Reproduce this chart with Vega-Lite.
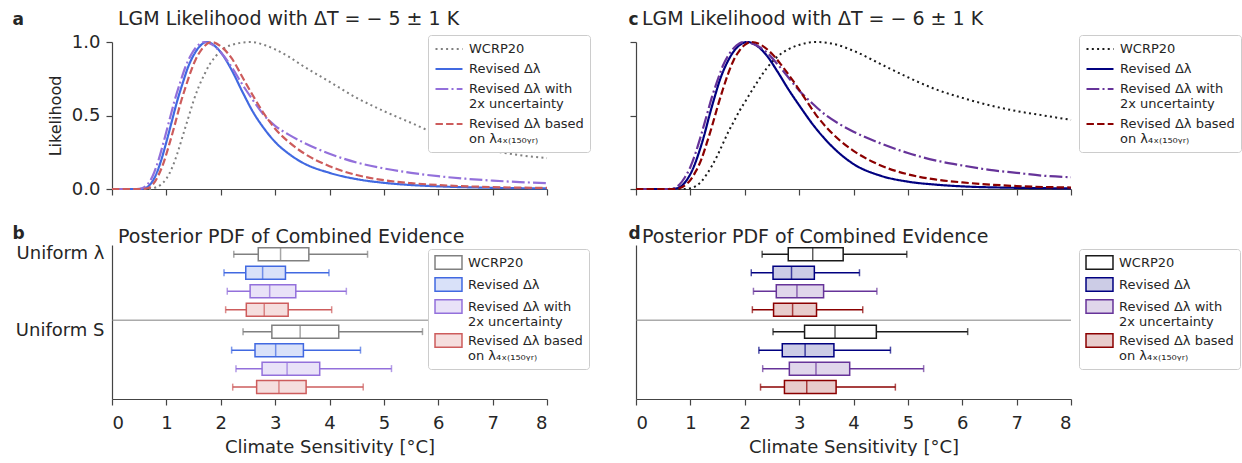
{
"$schema": "https://vega.github.io/schema/vega-lite/v6.json",
"padding": {"left": 12, "top": 10, "right": 0, "bottom": 0},
"background": "white",
"config": {
  "font": "DejaVu Sans",
  "view": {"stroke": null},
  "axis": {"grid": false, "domainColor": "#444444", "tickColor": "#444444", "labelColor": "#262626", "titleColor": "#262626", "labelFontSize": 18, "titleFontSize": 18, "titleFontWeight": "normal", "tickSize": 6, "domainWidth": 1.2, "tickWidth": 1.2, "labelPadding": 3},
  "legend": {"labelFontSize": 13, "labelColor": "#262626", "strokeColor": "#cccccc", "fillColor": "white", "padding": 6, "cornerRadius": 3, "rowPadding": 5, "labelLimit": 300, "symbolOffset": 7, "labelOffset": 12},
  "title": {"fontSize": 19, "fontWeight": "normal", "color": "#262626", "anchor": "start", "frame": "group"}
},
"datasets": {
"curves": [
{"panel":"a","series":"WCRP20","S":0,"L":0},{"panel":"a","series":"WCRP20","S":0.7,"L":0},{"panel":"a","series":"WCRP20","S":0.8,"L":0.01},{"panel":"a","series":"WCRP20","S":0.9,"L":0.03},{"panel":"a","series":"WCRP20","S":1.0,"L":0.07},{"panel":"a","series":"WCRP20","S":1.1,"L":0.14},{"panel":"a","series":"WCRP20","S":1.2,"L":0.24},{"panel":"a","series":"WCRP20","S":1.3,"L":0.36},{"panel":"a","series":"WCRP20","S":1.4,"L":0.48},{"panel":"a","series":"WCRP20","S":1.5,"L":0.6},{"panel":"a","series":"WCRP20","S":1.6,"L":0.7},{"panel":"a","series":"WCRP20","S":1.7,"L":0.78},{"panel":"a","series":"WCRP20","S":1.8,"L":0.85},{"panel":"a","series":"WCRP20","S":1.9,"L":0.9},{"panel":"a","series":"WCRP20","S":2.0,"L":0.94},{"panel":"a","series":"WCRP20","S":2.2,"L":0.98},{"panel":"a","series":"WCRP20","S":2.55,"L":1.0},{"panel":"a","series":"WCRP20","S":2.8,"L":0.98},{"panel":"a","series":"WCRP20","S":3.0,"L":0.95},{"panel":"a","series":"WCRP20","S":3.25,"L":0.9},{"panel":"a","series":"WCRP20","S":3.5,"L":0.84},{"panel":"a","series":"WCRP20","S":4.0,"L":0.73},{"panel":"a","series":"WCRP20","S":4.5,"L":0.62},{"panel":"a","series":"WCRP20","S":5.0,"L":0.53},{"panel":"a","series":"WCRP20","S":5.5,"L":0.45},{"panel":"a","series":"WCRP20","S":6.0,"L":0.37},{"panel":"a","series":"WCRP20","S":6.5,"L":0.31},{"panel":"a","series":"WCRP20","S":7.0,"L":0.26},{"panel":"a","series":"WCRP20","S":7.5,"L":0.23},{"panel":"a","series":"WCRP20","S":8.0,"L":0.21},
{"panel":"a","series":"Rev","S":0,"L":0},{"panel":"a","series":"Rev","S":0.5,"L":0},{"panel":"a","series":"Rev","S":0.6,"L":0.005},{"panel":"a","series":"Rev","S":0.7,"L":0.03},{"panel":"a","series":"Rev","S":0.8,"L":0.09},{"panel":"a","series":"Rev","S":0.9,"L":0.19},{"panel":"a","series":"Rev","S":1.0,"L":0.32},{"panel":"a","series":"Rev","S":1.1,"L":0.46},{"panel":"a","series":"Rev","S":1.2,"L":0.6},{"panel":"a","series":"Rev","S":1.3,"L":0.72},{"panel":"a","series":"Rev","S":1.4,"L":0.83},{"panel":"a","series":"Rev","S":1.5,"L":0.91},{"panel":"a","series":"Rev","S":1.6,"L":0.965},{"panel":"a","series":"Rev","S":1.74,"L":1.0},{"panel":"a","series":"Rev","S":1.9,"L":0.97},{"panel":"a","series":"Rev","S":2.0,"L":0.93},{"panel":"a","series":"Rev","S":2.2,"L":0.81},{"panel":"a","series":"Rev","S":2.4,"L":0.66},{"panel":"a","series":"Rev","S":2.6,"L":0.52},{"panel":"a","series":"Rev","S":2.8,"L":0.41},{"panel":"a","series":"Rev","S":3.0,"L":0.32},{"panel":"a","series":"Rev","S":3.25,"L":0.24},{"panel":"a","series":"Rev","S":3.5,"L":0.18},{"panel":"a","series":"Rev","S":4.0,"L":0.11},{"panel":"a","series":"Rev","S":4.5,"L":0.067},{"panel":"a","series":"Rev","S":5.0,"L":0.042},{"panel":"a","series":"Rev","S":5.5,"L":0.027},{"panel":"a","series":"Rev","S":6.0,"L":0.018},{"panel":"a","series":"Rev","S":7.0,"L":0.008},{"panel":"a","series":"Rev","S":8.0,"L":0.004},
{"panel":"a","series":"Rev2x","S":0,"L":0},{"panel":"a","series":"Rev2x","S":0.45,"L":0},{"panel":"a","series":"Rev2x","S":0.55,"L":0.005},{"panel":"a","series":"Rev2x","S":0.65,"L":0.03},{"panel":"a","series":"Rev2x","S":0.75,"L":0.09},{"panel":"a","series":"Rev2x","S":0.85,"L":0.19},{"panel":"a","series":"Rev2x","S":0.95,"L":0.32},{"panel":"a","series":"Rev2x","S":1.05,"L":0.46},{"panel":"a","series":"Rev2x","S":1.15,"L":0.6},{"panel":"a","series":"Rev2x","S":1.25,"L":0.72},{"panel":"a","series":"Rev2x","S":1.35,"L":0.83},{"panel":"a","series":"Rev2x","S":1.45,"L":0.91},{"panel":"a","series":"Rev2x","S":1.55,"L":0.965},{"panel":"a","series":"Rev2x","S":1.7,"L":1.0},{"panel":"a","series":"Rev2x","S":1.85,"L":0.98},{"panel":"a","series":"Rev2x","S":2.0,"L":0.93},{"panel":"a","series":"Rev2x","S":2.2,"L":0.83},{"panel":"a","series":"Rev2x","S":2.4,"L":0.71},{"panel":"a","series":"Rev2x","S":2.6,"L":0.6},{"panel":"a","series":"Rev2x","S":2.8,"L":0.5},{"panel":"a","series":"Rev2x","S":3.0,"L":0.43},{"panel":"a","series":"Rev2x","S":3.25,"L":0.37},{"panel":"a","series":"Rev2x","S":3.5,"L":0.32},{"panel":"a","series":"Rev2x","S":4.0,"L":0.24},{"panel":"a","series":"Rev2x","S":4.5,"L":0.18},{"panel":"a","series":"Rev2x","S":5.0,"L":0.14},{"panel":"a","series":"Rev2x","S":5.5,"L":0.11},{"panel":"a","series":"Rev2x","S":6.0,"L":0.087},{"panel":"a","series":"Rev2x","S":6.5,"L":0.07},{"panel":"a","series":"Rev2x","S":7.0,"L":0.057},{"panel":"a","series":"Rev2x","S":7.5,"L":0.047},{"panel":"a","series":"Rev2x","S":8.0,"L":0.04},
{"panel":"a","series":"Rev4x","S":0,"L":0},{"panel":"a","series":"Rev4x","S":0.55,"L":0},{"panel":"a","series":"Rev4x","S":0.65,"L":0.005},{"panel":"a","series":"Rev4x","S":0.75,"L":0.03},{"panel":"a","series":"Rev4x","S":0.85,"L":0.09},{"panel":"a","series":"Rev4x","S":0.95,"L":0.18},{"panel":"a","series":"Rev4x","S":1.05,"L":0.3},{"panel":"a","series":"Rev4x","S":1.15,"L":0.43},{"panel":"a","series":"Rev4x","S":1.25,"L":0.57},{"panel":"a","series":"Rev4x","S":1.35,"L":0.69},{"panel":"a","series":"Rev4x","S":1.45,"L":0.8},{"panel":"a","series":"Rev4x","S":1.55,"L":0.89},{"panel":"a","series":"Rev4x","S":1.65,"L":0.95},{"panel":"a","series":"Rev4x","S":1.83,"L":1.0},{"panel":"a","series":"Rev4x","S":2.0,"L":0.97},{"panel":"a","series":"Rev4x","S":2.2,"L":0.89},{"panel":"a","series":"Rev4x","S":2.4,"L":0.76},{"panel":"a","series":"Rev4x","S":2.6,"L":0.63},{"panel":"a","series":"Rev4x","S":2.8,"L":0.51},{"panel":"a","series":"Rev4x","S":3.0,"L":0.41},{"panel":"a","series":"Rev4x","S":3.25,"L":0.32},{"panel":"a","series":"Rev4x","S":3.5,"L":0.25},{"panel":"a","series":"Rev4x","S":4.0,"L":0.155},{"panel":"a","series":"Rev4x","S":4.5,"L":0.095},{"panel":"a","series":"Rev4x","S":5.0,"L":0.06},{"panel":"a","series":"Rev4x","S":5.5,"L":0.04},{"panel":"a","series":"Rev4x","S":6.0,"L":0.027},{"panel":"a","series":"Rev4x","S":7.0,"L":0.013},{"panel":"a","series":"Rev4x","S":8.0,"L":0.007},
{"panel":"c","series":"WCRP20","S":0,"L":0},{"panel":"c","series":"WCRP20","S":0.9,"L":0},{"panel":"c","series":"WCRP20","S":1.0,"L":0.005},{"panel":"c","series":"WCRP20","S":1.1,"L":0.02},{"panel":"c","series":"WCRP20","S":1.2,"L":0.05},{"panel":"c","series":"WCRP20","S":1.3,"L":0.1},{"panel":"c","series":"WCRP20","S":1.4,"L":0.16},{"panel":"c","series":"WCRP20","S":1.5,"L":0.23},{"panel":"c","series":"WCRP20","S":1.6,"L":0.31},{"panel":"c","series":"WCRP20","S":1.7,"L":0.39},{"panel":"c","series":"WCRP20","S":1.8,"L":0.46},{"panel":"c","series":"WCRP20","S":1.9,"L":0.53},{"panel":"c","series":"WCRP20","S":2.0,"L":0.59},{"panel":"c","series":"WCRP20","S":2.2,"L":0.71},{"panel":"c","series":"WCRP20","S":2.4,"L":0.82},{"panel":"c","series":"WCRP20","S":2.6,"L":0.9},{"panel":"c","series":"WCRP20","S":2.8,"L":0.95},{"panel":"c","series":"WCRP20","S":3.0,"L":0.98},{"panel":"c","series":"WCRP20","S":3.3,"L":1.0},{"panel":"c","series":"WCRP20","S":3.6,"L":0.99},{"panel":"c","series":"WCRP20","S":4.0,"L":0.94},{"panel":"c","series":"WCRP20","S":4.5,"L":0.85},{"panel":"c","series":"WCRP20","S":5.0,"L":0.76},{"panel":"c","series":"WCRP20","S":5.5,"L":0.68},{"panel":"c","series":"WCRP20","S":6.0,"L":0.62},{"panel":"c","series":"WCRP20","S":6.5,"L":0.57},{"panel":"c","series":"WCRP20","S":7.0,"L":0.53},{"panel":"c","series":"WCRP20","S":7.5,"L":0.5},{"panel":"c","series":"WCRP20","S":8.0,"L":0.47},
{"panel":"c","series":"Rev","S":0,"L":0},{"panel":"c","series":"Rev","S":0.65,"L":0},{"panel":"c","series":"Rev","S":0.75,"L":0.005},{"panel":"c","series":"Rev","S":0.85,"L":0.025},{"panel":"c","series":"Rev","S":0.95,"L":0.07},{"panel":"c","series":"Rev","S":1.05,"L":0.14},{"panel":"c","series":"Rev","S":1.15,"L":0.24},{"panel":"c","series":"Rev","S":1.25,"L":0.36},{"panel":"c","series":"Rev","S":1.35,"L":0.5},{"panel":"c","series":"Rev","S":1.45,"L":0.63},{"panel":"c","series":"Rev","S":1.55,"L":0.75},{"panel":"c","series":"Rev","S":1.65,"L":0.84},{"panel":"c","series":"Rev","S":1.75,"L":0.91},{"panel":"c","series":"Rev","S":1.85,"L":0.96},{"panel":"c","series":"Rev","S":1.95,"L":0.99},{"panel":"c","series":"Rev","S":2.05,"L":1.0},{"panel":"c","series":"Rev","S":2.2,"L":0.98},{"panel":"c","series":"Rev","S":2.4,"L":0.91},{"panel":"c","series":"Rev","S":2.6,"L":0.8},{"panel":"c","series":"Rev","S":2.8,"L":0.68},{"panel":"c","series":"Rev","S":3.0,"L":0.57},{"panel":"c","series":"Rev","S":3.25,"L":0.44},{"panel":"c","series":"Rev","S":3.5,"L":0.33},{"panel":"c","series":"Rev","S":3.75,"L":0.24},{"panel":"c","series":"Rev","S":4.0,"L":0.17},{"panel":"c","series":"Rev","S":4.5,"L":0.09},{"panel":"c","series":"Rev","S":5.0,"L":0.05},{"panel":"c","series":"Rev","S":5.5,"L":0.03},{"panel":"c","series":"Rev","S":6.0,"L":0.018},{"panel":"c","series":"Rev","S":7.0,"L":0.008},{"panel":"c","series":"Rev","S":8.0,"L":0.004},
{"panel":"c","series":"Rev2x","S":0,"L":0},{"panel":"c","series":"Rev2x","S":0.6,"L":0},{"panel":"c","series":"Rev2x","S":0.7,"L":0.005},{"panel":"c","series":"Rev2x","S":0.8,"L":0.03},{"panel":"c","series":"Rev2x","S":0.9,"L":0.08},{"panel":"c","series":"Rev2x","S":1.0,"L":0.15},{"panel":"c","series":"Rev2x","S":1.1,"L":0.25},{"panel":"c","series":"Rev2x","S":1.2,"L":0.37},{"panel":"c","series":"Rev2x","S":1.3,"L":0.5},{"panel":"c","series":"Rev2x","S":1.4,"L":0.63},{"panel":"c","series":"Rev2x","S":1.5,"L":0.74},{"panel":"c","series":"Rev2x","S":1.6,"L":0.84},{"panel":"c","series":"Rev2x","S":1.7,"L":0.91},{"panel":"c","series":"Rev2x","S":1.8,"L":0.96},{"panel":"c","series":"Rev2x","S":1.9,"L":0.99},{"panel":"c","series":"Rev2x","S":2.0,"L":1.0},{"panel":"c","series":"Rev2x","S":2.2,"L":0.98},{"panel":"c","series":"Rev2x","S":2.4,"L":0.93},{"panel":"c","series":"Rev2x","S":2.6,"L":0.85},{"panel":"c","series":"Rev2x","S":2.8,"L":0.76},{"panel":"c","series":"Rev2x","S":3.0,"L":0.67},{"panel":"c","series":"Rev2x","S":3.25,"L":0.58},{"panel":"c","series":"Rev2x","S":3.5,"L":0.5},{"panel":"c","series":"Rev2x","S":3.75,"L":0.44},{"panel":"c","series":"Rev2x","S":4.0,"L":0.39},{"panel":"c","series":"Rev2x","S":4.5,"L":0.31},{"panel":"c","series":"Rev2x","S":5.0,"L":0.245},{"panel":"c","series":"Rev2x","S":5.5,"L":0.195},{"panel":"c","series":"Rev2x","S":6.0,"L":0.16},{"panel":"c","series":"Rev2x","S":6.5,"L":0.13},{"panel":"c","series":"Rev2x","S":7.0,"L":0.11},{"panel":"c","series":"Rev2x","S":7.5,"L":0.09},{"panel":"c","series":"Rev2x","S":8.0,"L":0.08},
{"panel":"c","series":"Rev4x","S":0,"L":0},{"panel":"c","series":"Rev4x","S":0.7,"L":0},{"panel":"c","series":"Rev4x","S":0.8,"L":0.005},{"panel":"c","series":"Rev4x","S":0.9,"L":0.025},{"panel":"c","series":"Rev4x","S":1.0,"L":0.06},{"panel":"c","series":"Rev4x","S":1.1,"L":0.12},{"panel":"c","series":"Rev4x","S":1.2,"L":0.2},{"panel":"c","series":"Rev4x","S":1.3,"L":0.31},{"panel":"c","series":"Rev4x","S":1.4,"L":0.43},{"panel":"c","series":"Rev4x","S":1.5,"L":0.56},{"panel":"c","series":"Rev4x","S":1.6,"L":0.68},{"panel":"c","series":"Rev4x","S":1.7,"L":0.79},{"panel":"c","series":"Rev4x","S":1.8,"L":0.88},{"panel":"c","series":"Rev4x","S":1.9,"L":0.94},{"panel":"c","series":"Rev4x","S":2.0,"L":0.98},{"panel":"c","series":"Rev4x","S":2.12,"L":1.0},{"panel":"c","series":"Rev4x","S":2.3,"L":0.98},{"panel":"c","series":"Rev4x","S":2.5,"L":0.92},{"panel":"c","series":"Rev4x","S":2.7,"L":0.83},{"panel":"c","series":"Rev4x","S":2.9,"L":0.73},{"panel":"c","series":"Rev4x","S":3.1,"L":0.62},{"panel":"c","series":"Rev4x","S":3.3,"L":0.51},{"panel":"c","series":"Rev4x","S":3.5,"L":0.42},{"panel":"c","series":"Rev4x","S":3.75,"L":0.33},{"panel":"c","series":"Rev4x","S":4.0,"L":0.26},{"panel":"c","series":"Rev4x","S":4.5,"L":0.16},{"panel":"c","series":"Rev4x","S":5.0,"L":0.1},{"panel":"c","series":"Rev4x","S":5.5,"L":0.065},{"panel":"c","series":"Rev4x","S":6.0,"L":0.045},{"panel":"c","series":"Rev4x","S":7.0,"L":0.02},{"panel":"c","series":"Rev4x","S":8.0,"L":0.01}
],
"boxes": [
{"panel":"b","prior":"Uniform λ","series":"WCRP20","lo":2.24,"q1":2.69,"med":3.10,"q3":3.62,"hi":4.70},
{"panel":"b","prior":"Uniform λ","series":"Rev","lo":2.06,"q1":2.46,"med":2.77,"q3":3.19,"hi":3.99},
{"panel":"b","prior":"Uniform λ","series":"Rev2x","lo":2.12,"q1":2.54,"med":2.90,"q3":3.38,"hi":4.31},
{"panel":"b","prior":"Uniform λ","series":"Rev4x","lo":2.09,"q1":2.47,"med":2.80,"q3":3.24,"hi":4.04},
{"panel":"b","prior":"Uniform S","series":"WCRP20","lo":2.41,"q1":2.94,"med":3.46,"q3":4.17,"hi":5.71},
{"panel":"b","prior":"Uniform S","series":"Rev","lo":2.20,"q1":2.63,"med":3.01,"q3":3.52,"hi":4.57},
{"panel":"b","prior":"Uniform S","series":"Rev2x","lo":2.28,"q1":2.76,"med":3.22,"q3":3.82,"hi":5.14},
{"panel":"b","prior":"Uniform S","series":"Rev4x","lo":2.22,"q1":2.66,"med":3.07,"q3":3.57,"hi":4.62},
{"panel":"d","prior":"Uniform λ","series":"WCRP20","lo":2.32,"q1":2.80,"med":3.25,"q3":3.81,"hi":4.98},
{"panel":"d","prior":"Uniform λ","series":"Rev","lo":2.12,"q1":2.52,"med":2.86,"q3":3.28,"hi":4.11},
{"panel":"d","prior":"Uniform λ","series":"Rev2x","lo":2.16,"q1":2.58,"med":2.96,"q3":3.45,"hi":4.43},
{"panel":"d","prior":"Uniform λ","series":"Rev4x","lo":2.14,"q1":2.53,"med":2.88,"q3":3.32,"hi":4.17},
{"panel":"d","prior":"Uniform S","series":"WCRP20","lo":2.52,"q1":3.10,"med":3.66,"q3":4.42,"hi":6.10},
{"panel":"d","prior":"Uniform S","series":"Rev","lo":2.26,"q1":2.69,"med":3.11,"q3":3.64,"hi":4.68},
{"panel":"d","prior":"Uniform S","series":"Rev2x","lo":2.33,"q1":2.82,"med":3.31,"q3":3.93,"hi":5.29},
{"panel":"d","prior":"Uniform S","series":"Rev4x","lo":2.29,"q1":2.73,"med":3.14,"q3":3.68,"hi":4.77}
]
},
"columns": 2,
"spacing": {"row": 26, "column": 37},
"resolve": {"scale": {"color": "independent", "strokeDash": "independent", "fill": "independent", "stroke": "independent"}},
"concat": [
{
  "width": 435, "height": 147,
  "title": {"text": "LGM Likelihood with ΔT = − 5 ± 1 K", "offset": -15, "dx": 6, "dy": 19, "baseline": "alphabetic"},
  "data": {"name": "curves"},
  "transform": [{"filter": "datum.panel == 'a'"}],
  "encoding": {
    "y": {"field": "L", "type": "quantitative", "scale": {"domain": [0, 1]}, "axis": {"values": [0, 0.5, 1], "format": ".1f", "title": "Likelihood", "titleFontSize": 16, "titlePadding": 8, "labelPadding": 6}},
    "color": {"field": "series", "type": "nominal", "scale": {"domain": ["WCRP20", "Rev", "Rev2x", "Rev4x"], "range": ["#808080", "#4169E1", "#9370DB", "#CD5C5C"]},
      "legend": {"orient": "none", "legendX": 316, "legendY": -7, "title": null, "symbolType": "M-2,0H2", "symbolSize": 182, "symbolStrokeWidth": 2, "labelExpr": "datum.value == 'Rev' ? 'Revised Δλ' : datum.value == 'Rev2x' ? ['Revised Δλ with', '2x uncertainty'] : datum.value == 'Rev4x' ? ['Revised Δλ based', 'on λ₄ₓ₍₁₅₀ᵧᵣ₎'] : datum.label"}},
    "strokeDash": {"field": "series", "type": "nominal", "scale": {"domain": ["WCRP20", "Rev", "Rev2x", "Rev4x"], "range": [[2, 3.3], [1, 0], [12.8, 3.2, 2, 3.2], [7.4, 3.2]]},
      "legend": {"orient": "none", "legendX": 316, "legendY": -7, "title": null, "symbolType": "M-2,0H2", "symbolSize": 182, "symbolStrokeWidth": 2, "labelExpr": "datum.value == 'Rev' ? 'Revised Δλ' : datum.value == 'Rev2x' ? ['Revised Δλ with', '2x uncertainty'] : datum.value == 'Rev4x' ? ['Revised Δλ based', 'on λ₄ₓ₍₁₅₀ᵧᵣ₎'] : datum.label"}}
  },
  "layer": [
    {"transform": [{"filter": "datum.series == 'WCRP20'"}],
     "mark": {"type": "line", "strokeWidth": 2, "interpolate": "monotone"},
     "encoding": {"x": {"field": "S", "type": "quantitative", "scale": {"domain": [0, 8]}, "axis": {"values": [0,1,2,3,4,5,6,7,8], "labels": false, "title": null}}}},
    {"transform": [{"filter": "datum.series != 'WCRP20'"}],
     "mark": {"type": "line", "strokeWidth": 2.2, "interpolate": "monotone"},
     "encoding": {"x": {"field": "S", "type": "quantitative", "scale": {"domain": [0, 8]}, "axis": {"orient": "top", "domain": false, "ticks": false, "labels": false, "title": "a", "titleFontWeight": "bold", "titleFontSize": 17, "titleX": -100, "titleY": -18, "titleAlign": "left", "titleBaseline": "alphabetic"}}}}
  ],
  "resolve": {"axis": {"x": "independent"}}
},
{
  "width": 435, "height": 147,
  "title": {"text": "LGM Likelihood with ΔT = − 6 ± 1 K", "offset": -15, "dx": 6, "dy": 19, "baseline": "alphabetic"},
  "data": {"name": "curves"},
  "transform": [{"filter": "datum.panel == 'c'"}],
  "encoding": {
    "y": {"field": "L", "type": "quantitative", "scale": {"domain": [0, 1]}, "axis": {"values": [0, 0.5, 1], "labels": false, "title": null}},
    "color": {"field": "series", "type": "nominal", "scale": {"domain": ["WCRP20", "Rev", "Rev2x", "Rev4x"], "range": ["#1a1a1a", "#000080", "#663399", "#8B0000"]},
      "legend": {"orient": "none", "legendX": 443, "legendY": -7, "title": null, "symbolType": "M-2,0H2", "symbolSize": 182, "symbolStrokeWidth": 2, "labelExpr": "datum.value == 'Rev' ? 'Revised Δλ' : datum.value == 'Rev2x' ? ['Revised Δλ with', '2x uncertainty'] : datum.value == 'Rev4x' ? ['Revised Δλ based', 'on λ₄ₓ₍₁₅₀ᵧᵣ₎'] : datum.label"}},
    "strokeDash": {"field": "series", "type": "nominal", "scale": {"domain": ["WCRP20", "Rev", "Rev2x", "Rev4x"], "range": [[2, 3.3], [1, 0], [12.8, 3.2, 2, 3.2], [7.4, 3.2]]},
      "legend": {"orient": "none", "legendX": 443, "legendY": -7, "title": null, "symbolType": "M-2,0H2", "symbolSize": 182, "symbolStrokeWidth": 2, "labelExpr": "datum.value == 'Rev' ? 'Revised Δλ' : datum.value == 'Rev2x' ? ['Revised Δλ with', '2x uncertainty'] : datum.value == 'Rev4x' ? ['Revised Δλ based', 'on λ₄ₓ₍₁₅₀ᵧᵣ₎'] : datum.label"}}
  },
  "layer": [
    {"transform": [{"filter": "datum.series == 'WCRP20'"}],
     "mark": {"type": "line", "strokeWidth": 2, "interpolate": "monotone"},
     "encoding": {"x": {"field": "S", "type": "quantitative", "scale": {"domain": [0, 8]}, "axis": {"values": [0,1,2,3,4,5,6,7,8], "labels": false, "title": null}}}},
    {"transform": [{"filter": "datum.series != 'WCRP20'"}],
     "mark": {"type": "line", "strokeWidth": 2.2, "interpolate": "monotone"},
     "encoding": {"x": {"field": "S", "type": "quantitative", "scale": {"domain": [0, 8]}, "axis": {"orient": "top", "domain": false, "ticks": false, "labels": false, "title": "c", "titleFontWeight": "bold", "titleFontSize": 17, "titleX": -8, "titleY": -18, "titleAlign": "left", "titleBaseline": "alphabetic"}}}}
  ],
  "resolve": {"axis": {"x": "independent"}}
},
{
  "width": 435, "height": 154,
  "title": {"text": "Posterior PDF of Combined Evidence", "offset": -16, "dx": 6, "dy": 22, "baseline": "alphabetic"},
  "data": {"name": "boxes"},
  "transform": [{"filter": "datum.panel == 'b'"}],
  "layer": [
    {"transform": [{"filter": "datum.series == 'WCRP20' && datum.prior == 'Uniform S'"}],
     "mark": {"type": "rule", "color": "#808080", "strokeWidth": 1},
     "encoding": {"y": {"datum": "Uniform S", "type": "nominal", "bandPosition": -0.03, "scale": {"domain": ["Uniform λ", "Uniform S"], "paddingInner": 0.044, "paddingOuter": 0.017, "align": 0}, "axis": {"title": null, "ticks": false, "labelOffset": -28, "labelPadding": 8, "labelFontSize": 18}}}},
    {"mark": {"type": "rule", "strokeWidth": 1.5},
     "encoding": {
       "x": {"field": "lo", "type": "quantitative", "scale": {"domain": [0, 8]}, "axis": {"values": [0,1,2,3,4,5,6,7,8], "format": "d", "title": "Climate Sensitivity [°C]", "titlePadding": 6, "labelPadding": 9}},
       "x2": {"field": "hi"},
       "y": {"field": "prior", "type": "nominal", "scale": {"domain": ["Uniform λ", "Uniform S"], "paddingInner": 0.044, "paddingOuter": 0.017, "align": 0}, "axis": {"title": null, "ticks": false, "labelOffset": -28, "labelPadding": 8, "labelFontSize": 18}},
       "yOffset": {"field": "series", "type": "nominal", "scale": {"domain": ["WCRP20", "Rev", "Rev2x", "Rev4x"], "paddingInner": 0, "paddingOuter": 0}},
       "stroke": {"field": "series", "type": "nominal", "scale": {"domain": ["WCRP20", "Rev", "Rev2x", "Rev4x"], "range": ["#808080", "#4169E1", "#9370DB", "#CD5C5C"]},
         "legend": {"orient": "none", "legendX": 316, "legendY": 4, "rowPadding": 1, "title": null, "symbolType": "M-2,-1H2V1H-2Z", "symbolSize": 182, "symbolStrokeWidth": 1.5, "labelExpr": "datum.value == 'Rev' ? 'Revised Δλ' : datum.value == 'Rev2x' ? ['Revised Δλ with', '2x uncertainty'] : datum.value == 'Rev4x' ? ['Revised Δλ based', 'on λ₄ₓ₍₁₅₀ᵧᵣ₎'] : datum.label"}}
     }},
    {"mark": {"type": "bar", "size": 13, "strokeWidth": 1.5},
     "encoding": {
       "x": {"field": "q1", "type": "quantitative", "scale": {"domain": [0, 8]}, "axis": {"orient": "top", "domain": false, "ticks": false, "labels": false, "title": "b", "titleFontWeight": "bold", "titleFontSize": 17, "titleX": -100, "titleY": -7, "titleAlign": "left", "titleBaseline": "alphabetic"}},
       "x2": {"field": "q3"},
       "y": {"field": "prior", "type": "nominal", "scale": {"domain": ["Uniform λ", "Uniform S"], "paddingInner": 0.044, "paddingOuter": 0.017, "align": 0}, "axis": {"title": null, "ticks": false, "labelOffset": -28, "labelPadding": 8, "labelFontSize": 18}},
       "yOffset": {"field": "series", "type": "nominal", "scale": {"domain": ["WCRP20", "Rev", "Rev2x", "Rev4x"], "paddingInner": 0, "paddingOuter": 0}},
       "fill": {"field": "series", "type": "nominal", "scale": {"domain": ["WCRP20", "Rev", "Rev2x", "Rev4x"], "range": ["#FFFFFF", "#D9E1F9", "#E9E2F8", "#F5DEDE"]},
         "legend": {"orient": "none", "legendX": 316, "legendY": 4, "rowPadding": 1, "title": null, "symbolType": "M-2,-1H2V1H-2Z", "symbolSize": 182, "symbolStrokeWidth": 1.5, "labelExpr": "datum.value == 'Rev' ? 'Revised Δλ' : datum.value == 'Rev2x' ? ['Revised Δλ with', '2x uncertainty'] : datum.value == 'Rev4x' ? ['Revised Δλ based', 'on λ₄ₓ₍₁₅₀ᵧᵣ₎'] : datum.label"}},
       "stroke": {"field": "series", "type": "nominal", "scale": {"domain": ["WCRP20", "Rev", "Rev2x", "Rev4x"], "range": ["#808080", "#4169E1", "#9370DB", "#CD5C5C"]},
         "legend": {"orient": "none", "legendX": 316, "legendY": 4, "rowPadding": 1, "title": null, "symbolType": "M-2,-1H2V1H-2Z", "symbolSize": 182, "symbolStrokeWidth": 1.5, "labelExpr": "datum.value == 'Rev' ? 'Revised Δλ' : datum.value == 'Rev2x' ? ['Revised Δλ with', '2x uncertainty'] : datum.value == 'Rev4x' ? ['Revised Δλ based', 'on λ₄ₓ₍₁₅₀ᵧᵣ₎'] : datum.label"}}
     }},
    {"mark": {"type": "tick", "size": 13, "thickness": 1.5},
     "encoding": {
       "x": {"field": "med", "type": "quantitative", "scale": {"domain": [0, 8]}, "axis": null},
       "y": {"field": "prior", "type": "nominal", "scale": {"domain": ["Uniform λ", "Uniform S"], "paddingInner": 0.044, "paddingOuter": 0.017, "align": 0}, "axis": {"title": null, "ticks": false, "labelOffset": -28, "labelPadding": 8, "labelFontSize": 18}},
       "yOffset": {"field": "series", "type": "nominal", "scale": {"domain": ["WCRP20", "Rev", "Rev2x", "Rev4x"], "paddingInner": 0, "paddingOuter": 0}},
       "color": {"field": "series", "type": "nominal", "scale": {"domain": ["WCRP20", "Rev", "Rev2x", "Rev4x"], "range": ["#808080", "#4169E1", "#9370DB", "#CD5C5C"]}, "legend": null}
     }},
    {"mark": {"type": "tick", "size": 7, "thickness": 1.5},
     "encoding": {
       "x": {"field": "lo", "type": "quantitative", "scale": {"domain": [0, 8]}, "axis": null},
       "y": {"field": "prior", "type": "nominal", "scale": {"domain": ["Uniform λ", "Uniform S"], "paddingInner": 0.044, "paddingOuter": 0.017, "align": 0}, "axis": {"title": null, "ticks": false, "labelOffset": -28, "labelPadding": 8, "labelFontSize": 18}},
       "yOffset": {"field": "series", "type": "nominal", "scale": {"domain": ["WCRP20", "Rev", "Rev2x", "Rev4x"], "paddingInner": 0, "paddingOuter": 0}},
       "color": {"field": "series", "type": "nominal", "scale": {"domain": ["WCRP20", "Rev", "Rev2x", "Rev4x"], "range": ["#808080", "#4169E1", "#9370DB", "#CD5C5C"]}, "legend": null}
     }},
    {"mark": {"type": "tick", "size": 7, "thickness": 1.5},
     "encoding": {
       "x": {"field": "hi", "type": "quantitative", "scale": {"domain": [0, 8]}, "axis": null},
       "y": {"field": "prior", "type": "nominal", "scale": {"domain": ["Uniform λ", "Uniform S"], "paddingInner": 0.044, "paddingOuter": 0.017, "align": 0}, "axis": {"title": null, "ticks": false, "labelOffset": -28, "labelPadding": 8, "labelFontSize": 18}},
       "yOffset": {"field": "series", "type": "nominal", "scale": {"domain": ["WCRP20", "Rev", "Rev2x", "Rev4x"], "paddingInner": 0, "paddingOuter": 0}},
       "color": {"field": "series", "type": "nominal", "scale": {"domain": ["WCRP20", "Rev", "Rev2x", "Rev4x"], "range": ["#808080", "#4169E1", "#9370DB", "#CD5C5C"]}, "legend": null}
     }}
  ],
  "resolve": {"axis": {"x": "independent"}}
},
{
  "width": 435, "height": 154,
  "title": {"text": "Posterior PDF of Combined Evidence", "offset": -16, "dx": 6, "dy": 22, "baseline": "alphabetic"},
  "data": {"name": "boxes"},
  "transform": [{"filter": "datum.panel == 'd'"}],
  "layer": [
    {"transform": [{"filter": "datum.series == 'WCRP20' && datum.prior == 'Uniform S'"}],
     "mark": {"type": "rule", "color": "#808080", "strokeWidth": 1},
     "encoding": {"y": {"datum": "Uniform S", "type": "nominal", "bandPosition": -0.03, "scale": {"domain": ["Uniform λ", "Uniform S"], "paddingInner": 0.044, "paddingOuter": 0.017, "align": 0}, "axis": {"title": null, "ticks": false, "labels": false}}}},
    {"mark": {"type": "rule", "strokeWidth": 1.5},
     "encoding": {
       "x": {"field": "lo", "type": "quantitative", "scale": {"domain": [0, 8]}, "axis": {"values": [0,1,2,3,4,5,6,7,8], "format": "d", "title": "Climate Sensitivity [°C]", "titlePadding": 6, "labelPadding": 9}},
       "x2": {"field": "hi"},
       "y": {"field": "prior", "type": "nominal", "scale": {"domain": ["Uniform λ", "Uniform S"], "paddingInner": 0.044, "paddingOuter": 0.017, "align": 0}, "axis": {"title": null, "ticks": false, "labels": false}},
       "yOffset": {"field": "series", "type": "nominal", "scale": {"domain": ["WCRP20", "Rev", "Rev2x", "Rev4x"], "paddingInner": 0, "paddingOuter": 0}},
       "stroke": {"field": "series", "type": "nominal", "scale": {"domain": ["WCRP20", "Rev", "Rev2x", "Rev4x"], "range": ["#1a1a1a", "#000080", "#663399", "#8B0000"]},
         "legend": {"orient": "none", "legendX": 443, "legendY": 4, "rowPadding": 1, "title": null, "symbolType": "M-2,-1H2V1H-2Z", "symbolSize": 182, "symbolStrokeWidth": 1.5, "labelExpr": "datum.value == 'Rev' ? 'Revised Δλ' : datum.value == 'Rev2x' ? ['Revised Δλ with', '2x uncertainty'] : datum.value == 'Rev4x' ? ['Revised Δλ based', 'on λ₄ₓ₍₁₅₀ᵧᵣ₎'] : datum.label"}}
     }},
    {"mark": {"type": "bar", "size": 13, "strokeWidth": 1.5},
     "encoding": {
       "x": {"field": "q1", "type": "quantitative", "scale": {"domain": [0, 8]}, "axis": {"orient": "top", "domain": false, "ticks": false, "labels": false, "title": "d", "titleFontWeight": "bold", "titleFontSize": 17, "titleX": -8, "titleY": -7, "titleAlign": "left", "titleBaseline": "alphabetic"}},
       "x2": {"field": "q3"},
       "y": {"field": "prior", "type": "nominal", "scale": {"domain": ["Uniform λ", "Uniform S"], "paddingInner": 0.044, "paddingOuter": 0.017, "align": 0}, "axis": {"title": null, "ticks": false, "labels": false}},
       "yOffset": {"field": "series", "type": "nominal", "scale": {"domain": ["WCRP20", "Rev", "Rev2x", "Rev4x"], "paddingInner": 0, "paddingOuter": 0}},
       "fill": {"field": "series", "type": "nominal", "scale": {"domain": ["WCRP20", "Rev", "Rev2x", "Rev4x"], "range": ["#FFFFFF", "#CCCCE6", "#E0D6EB", "#E8CCCC"]},
         "legend": {"orient": "none", "legendX": 443, "legendY": 4, "rowPadding": 1, "title": null, "symbolType": "M-2,-1H2V1H-2Z", "symbolSize": 182, "symbolStrokeWidth": 1.5, "labelExpr": "datum.value == 'Rev' ? 'Revised Δλ' : datum.value == 'Rev2x' ? ['Revised Δλ with', '2x uncertainty'] : datum.value == 'Rev4x' ? ['Revised Δλ based', 'on λ₄ₓ₍₁₅₀ᵧᵣ₎'] : datum.label"}},
       "stroke": {"field": "series", "type": "nominal", "scale": {"domain": ["WCRP20", "Rev", "Rev2x", "Rev4x"], "range": ["#1a1a1a", "#000080", "#663399", "#8B0000"]},
         "legend": {"orient": "none", "legendX": 443, "legendY": 4, "rowPadding": 1, "title": null, "symbolType": "M-2,-1H2V1H-2Z", "symbolSize": 182, "symbolStrokeWidth": 1.5, "labelExpr": "datum.value == 'Rev' ? 'Revised Δλ' : datum.value == 'Rev2x' ? ['Revised Δλ with', '2x uncertainty'] : datum.value == 'Rev4x' ? ['Revised Δλ based', 'on λ₄ₓ₍₁₅₀ᵧᵣ₎'] : datum.label"}}
     }},
    {"mark": {"type": "tick", "size": 13, "thickness": 1.5},
     "encoding": {
       "x": {"field": "med", "type": "quantitative", "scale": {"domain": [0, 8]}, "axis": null},
       "y": {"field": "prior", "type": "nominal", "scale": {"domain": ["Uniform λ", "Uniform S"], "paddingInner": 0.044, "paddingOuter": 0.017, "align": 0}, "axis": {"title": null, "ticks": false, "labels": false}},
       "yOffset": {"field": "series", "type": "nominal", "scale": {"domain": ["WCRP20", "Rev", "Rev2x", "Rev4x"], "paddingInner": 0, "paddingOuter": 0}},
       "color": {"field": "series", "type": "nominal", "scale": {"domain": ["WCRP20", "Rev", "Rev2x", "Rev4x"], "range": ["#1a1a1a", "#000080", "#663399", "#8B0000"]}, "legend": null}
     }},
    {"mark": {"type": "tick", "size": 7, "thickness": 1.5},
     "encoding": {
       "x": {"field": "lo", "type": "quantitative", "scale": {"domain": [0, 8]}, "axis": null},
       "y": {"field": "prior", "type": "nominal", "scale": {"domain": ["Uniform λ", "Uniform S"], "paddingInner": 0.044, "paddingOuter": 0.017, "align": 0}, "axis": {"title": null, "ticks": false, "labels": false}},
       "yOffset": {"field": "series", "type": "nominal", "scale": {"domain": ["WCRP20", "Rev", "Rev2x", "Rev4x"], "paddingInner": 0, "paddingOuter": 0}},
       "color": {"field": "series", "type": "nominal", "scale": {"domain": ["WCRP20", "Rev", "Rev2x", "Rev4x"], "range": ["#1a1a1a", "#000080", "#663399", "#8B0000"]}, "legend": null}
     }},
    {"mark": {"type": "tick", "size": 7, "thickness": 1.5},
     "encoding": {
       "x": {"field": "hi", "type": "quantitative", "scale": {"domain": [0, 8]}, "axis": null},
       "y": {"field": "prior", "type": "nominal", "scale": {"domain": ["Uniform λ", "Uniform S"], "paddingInner": 0.044, "paddingOuter": 0.017, "align": 0}, "axis": {"title": null, "ticks": false, "labels": false}},
       "yOffset": {"field": "series", "type": "nominal", "scale": {"domain": ["WCRP20", "Rev", "Rev2x", "Rev4x"], "paddingInner": 0, "paddingOuter": 0}},
       "color": {"field": "series", "type": "nominal", "scale": {"domain": ["WCRP20", "Rev", "Rev2x", "Rev4x"], "range": ["#1a1a1a", "#000080", "#663399", "#8B0000"]}, "legend": null}
     }}
  ],
  "resolve": {"axis": {"x": "independent"}}
}
]
}
